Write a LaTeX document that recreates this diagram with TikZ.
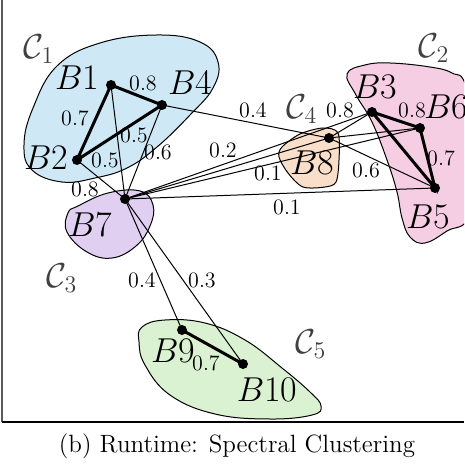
\documentclass[tikz,border=0pt]{standalone}
\usepackage{amsmath}
\usepackage{tikz}
\usetikzlibrary{calc,positioning}
\definecolor{cluA}{RGB}{206,233,245}
\definecolor{cluB}{RGB}{246,206,228}
\definecolor{cluC}{RGB}{225,207,241}
\definecolor{cluD}{RGB}{249,222,201}
\definecolor{cluE}{RGB}{218,242,210}
\tikzset{
    x=0.5pt,y=-0.5pt,
    dot/.style={circle, fill, inner sep=0pt, minimum size=5pt},
    heavy/.style={line width=1.5pt},
    light/.style={line width=0.5pt},
    blob/.style={draw, line width=0.5pt},
    wt/.style={font=\fontsize{11}{13}\selectfont, inner sep=1pt},
    blk/.style={font=\fontsize{18}{20}\selectfont, inner sep=0pt},
    clu/.style={font=\fontsize{16.5}{18}\selectfont, inner sep=0pt, text=black!75}
}
\newcommand{\blab}[1]{$B$#1}
\newcommand{\clab}[1]{$\mathcal{C}_{#1}$}

\begin{document}
\begin{tikzpicture}
    \useasboundingbox (0,0) rectangle (464,464);
    \begin{scope}
    \clip (0,0) rectangle (464,464);
    % clusters
    \draw[blob, fill=cluA] plot[smooth cycle, tension=0.7] coordinates {(157,35) (200,42) (218,62) (213,88) (190,115) (157,147) (127,168) (95,178) (62,182) (32,170) (24,145) (33,108) (57,66) (100,43)};
    \draw[blob, fill=cluB] plot[smooth cycle, tension=0.7] coordinates {(347,74) (365,65) (390,63) (430,67) (452,73) (466,86) (480,150) (470,215) (447,231) (425,243) (410,237) (402,218) (397,192) (387,160) (372,122) (356,95)};
    \draw[blob, fill=cluC] plot[smooth cycle, tension=0.7] coordinates {(78,206) (108,193) (140,191) (153,205) (150,226) (136,246) (112,258) (87,252) (67,232) (68,213)};
    \draw[blob, fill=cluD] plot[smooth cycle, tension=0.5] coordinates {(282,147) (300,134) (323,128) (338,133) (339,160) (336,182) (325,187) (303,187) (288,173) (279,157)};
    \draw[blob, fill=cluE] plot[smooth cycle, tension=0.7] coordinates {(142,327) (165,320) (205,323) (245,340) (282,368) (310,392) (321,406) (312,415) (270,419) (215,414) (170,395) (145,365) (139,342)};
    \end{scope}

    % frame
    \draw[black!65, line width=1.3pt] (2,0) -- (2,422);
    \draw[line width=0.6pt] (2,422) -- (464,422);

    % points
    \node[dot] (b1) at (111,85) {};
    \node[dot] (b2) at (77,160) {};
    \node[dot] (b3) at (372,112) {};
    \node[dot] (b4) at (162,105) {};
    \node[dot] (b5) at (435,188) {};
    \node[dot] (b6) at (420,128) {};
    \node[dot] (b7) at (125,199) {};
    \node[dot] (b8) at (329,138) {};
    \node[dot] (b9) at (182,330) {};
    \node[dot] (b10) at (243,364) {};

    % light edges
    \draw[light] (b1.center) -- (b7.center);
    \draw[light] (b2.center) -- (b7.center);
    \draw[light] (b4.center) -- (b7.center);
    \draw[light] (b4.center) -- (b8.center);
    \draw[light] (b7.center) -- (b3.center);
    \draw[light] (b7.center) -- (b8.center);
    \draw[light] (b7.center) -- (b6.center);
    \draw[light] (b7.center) -- (b5.center);
    \draw[light] (b8.center) -- (b3.center);
    \draw[light] (b8.center) -- (b6.center);
    \draw[light] (b8.center) -- (b5.center);
    \draw[light] (b7.center) -- (b9.center);
    \draw[light] (b7.center) -- (b10.center);

    % heavy edges
    \draw[heavy] (b1.center) -- (b4.center) -- (b2.center) -- cycle;
    \draw[heavy] (b3.center) -- (b6.center) -- (b5.center) -- cycle;
    \draw[heavy] (b9.center) -- (b10.center);

    % point labels
    \node[blk] (l1) at (77,78) {\blab{1}};
    \node[blk] (l2) at (46,158) {\blab{2}};
    \node[blk] (l3) at (375,87) {\blab{3}};
    \node[blk] (l4) at (190,82) {\blab{4}};
    \node[blk] (l5) at (428,217) {\blab{5}};
    \node[blk] (l6) at (446,107) {\blab{6}};
    \node[blk] (l7) at (90,225) {\blab{7}};
    \node[blk] (l8) at (312,163) {\blab{8}};
    \node[blk] (l9) at (173,351) {\blab{9}};
    \node[blk] (l10) at (267,390) {\blab{10}};

    % cluster labels
    \node[clu] (c1) at (39,49) {\clab{1}};
    \node[clu] (c2) at (434,48) {\clab{2}};
    \node[clu] (c3) at (62,278) {\clab{3}};
    \node[clu] (c4) at (302,109) {\clab{4}};
    \node[clu] (c5) at (311,344) {\clab{5}};

    % weights
    \node[wt] at (143,83) {0.8};
    \node[wt] at (75,118) {0.7};
    \node[wt] at (134,135) {0.5};
    \node[wt] at (105,160) {0.5};
    \node[wt] at (158,152) {0.6};
    \node[wt] at (85,189) {0.8};
    \node[wt] at (253,110) {0.4};
    \node[wt] at (223,150) {0.2};
    \node[wt] at (268,173) {0.1};
    \node[wt] at (287,207) {0.1};
    \node[wt] at (340,110) {0.8};
    \node[wt] at (412,110) {0.8};
    \node[wt] at (441,158) {0.7};
    \node[wt] at (366,170) {0.6};
    \node[wt] at (142,280) {0.4};
    \node[wt] at (202,280) {0.3};
    \node[wt] at (206,363) {0.7};

    % caption
    \node[font=\fontsize{12.5}{14}\selectfont, anchor=base] (cap) at (237,452) {(b)\ Runtime: Spectral Clustering};
\end{tikzpicture}
\end{document}
